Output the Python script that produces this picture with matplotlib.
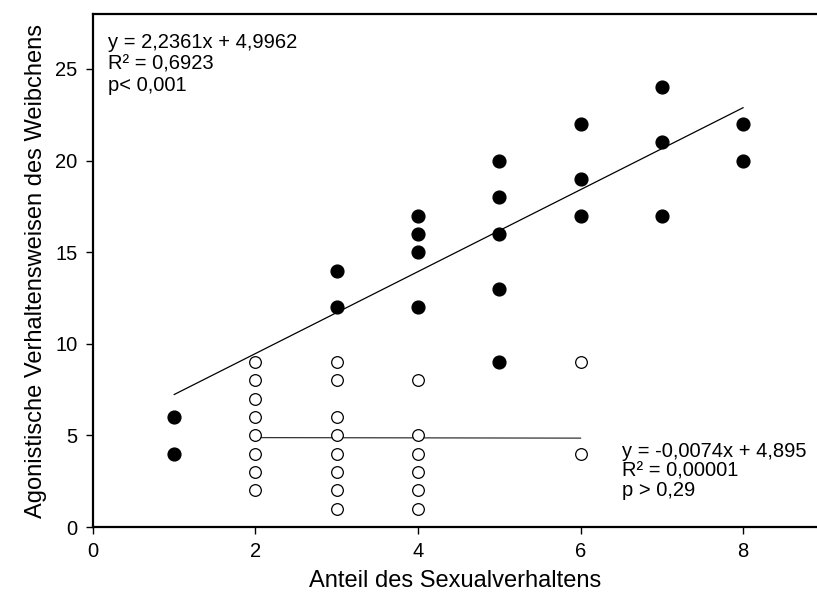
import numpy as np
import matplotlib.pyplot as plt

plt.rcParams['font.family'] = ['Liberation Sans', 'DejaVu Sans']

# Females with high agonistic behaviour (filled circles)
x_filled = [1, 1, 3, 3, 4, 4, 4, 4, 5, 5, 5, 5, 5, 6, 6, 6, 7, 7, 7, 8, 8]
y_filled = [6, 4, 14, 12, 17, 16, 15, 12, 20, 18, 16, 13, 9, 22, 19, 17, 24, 21, 17, 22, 20]

# Females with low agonistic behaviour (open circles)
x_open = [2, 2, 2, 2, 2, 2, 2, 2, 3, 3, 3, 3, 3, 3, 3, 3, 4, 4, 4, 4, 4, 4, 6, 6]
y_open = [9, 8, 7, 6, 5, 4, 3, 2, 9, 8, 6, 5, 4, 3, 2, 1, 8, 5, 4, 3, 2, 1, 9, 4]

# regression coefficients as printed in the chart
fit_filled = (2.2361, 4.9962)
fit_open = (-0.0074, 4.895)

fig = plt.figure(figsize=(8.17, 5.99), dpi=100)
ax = fig.add_axes([0.1138, 0.1202, 0.8862, 0.8564])

ax.plot(x_filled, y_filled, 'o', ms=9.2, color='black', zorder=3)
ax.plot(x_open, y_open, 'o', ms=8.4, mfc='white', mec='black', mew=0.9, zorder=3)

# regression lines
xf = np.array([min(x_filled), max(x_filled)])
ax.plot(xf, fit_filled[0] * xf + fit_filled[1], color='black', lw=0.9, zorder=2)
xo = np.array([min(x_open), max(x_open)])
ax.plot(xo, fit_open[0] * xo + fit_open[1], color='#333333', lw=0.9, zorder=2)

ax.text(0.18, 26.95, 'y = 2,2361x + 4,9962\nR² = 0,6923\np< 0,001',
        fontsize=14.5, va='top', ha='left', linespacing=1.17)
ax.text(6.51, 4.65, 'y = -0,0074x + 4,895\nR² = 0,00001\np > 0,29',
        fontsize=14.5, va='top', ha='left', linespacing=1.05)

ax.set_xlim(0, 8.91)
ax.set_ylim(0, 28)
ax.set_xticks([0, 2, 4, 6, 8])
ax.set_yticks([0, 5, 10, 15, 20, 25])
ax.tick_params(direction='out', length=5, width=1, labelsize=14.5, pad=6,
               top=False, right=False)
for side in ['left', 'bottom', 'top']:
    ax.spines[side].set_linewidth(1.6)
ax.spines['right'].set_visible(False)

ax.set_xlabel('Anteil des Sexualverhaltens', fontsize=17, labelpad=6)
ax.set_ylabel('Agonistische Verhaltensweisen des Weibchens', fontsize=17, labelpad=6)

plt.savefig('out.png', dpi=100)
